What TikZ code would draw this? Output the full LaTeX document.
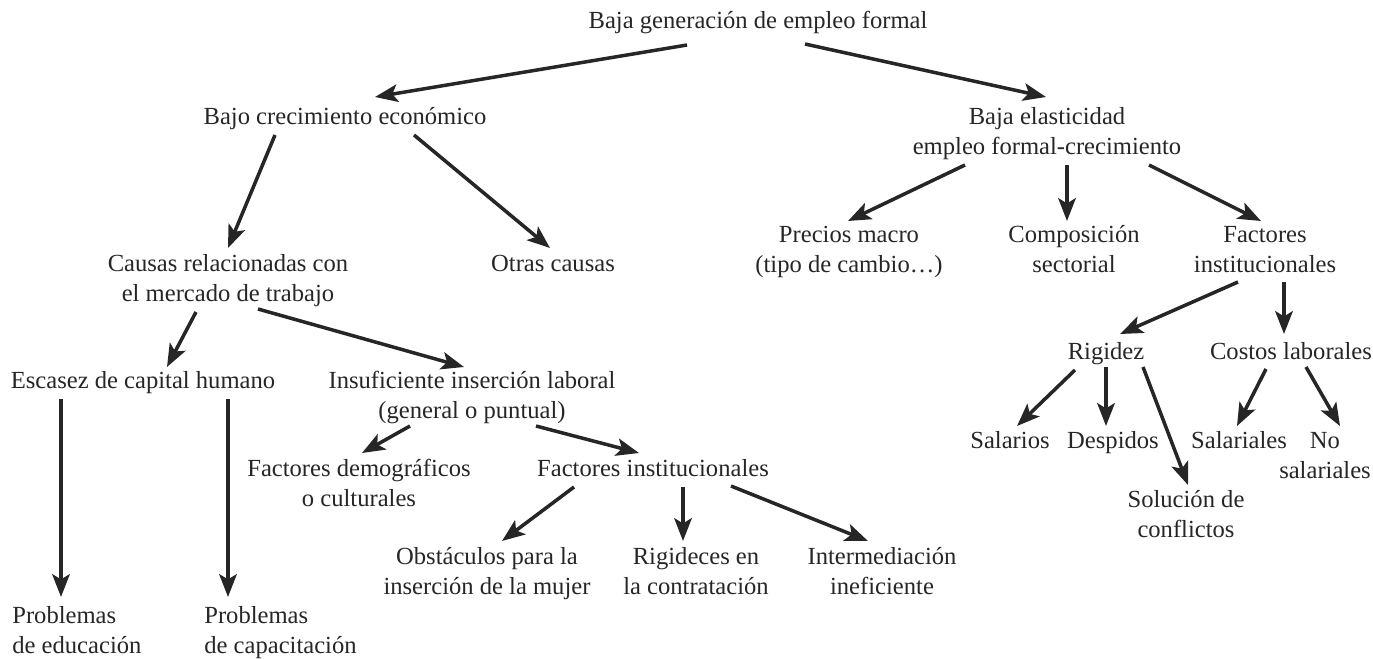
\documentclass[tikz,border=0pt]{standalone}
\usepackage{fontspec}
\setmainfont{Liberation Serif}
\usetikzlibrary{arrows.meta,calc}
\tikzset{
  lbl/.style={font=\fontsize{14pt}{17pt}\selectfont, align=center, inner sep=0pt, anchor=base, text=black!85},
  arr/.style={line width=2pt, -{Stealth[length=13pt,width=10pt,inset=3pt]}, black!85}
}
\begin{document}
\begin{tikzpicture}[x=0.02cm,y=-0.02cm]
    \useasboundingbox (0,0) rectangle (1373,659);
    % nodes (two-line nodes sit on their last line)
    \node[lbl] (top) at (758,29) {Baja generación de empleo formal};
    \node[lbl] (bajo) at (345,124) {Bajo crecimiento económico};
    \node[lbl] (elast) at (1047,154) {Baja elasticidad\\empleo formal-crecimiento};
    \node[lbl] (precios) at (849,272) {Precios macro\\(tipo de cambio\ldots)};
    \node[lbl] (compos) at (1074,272) {Composición\\sectorial};
    \node[lbl] (factR) at (1265,272) {Factores\\institucionales};
    \node[lbl] (causas) at (228,301) {Causas relacionadas con\\el mercado de trabajo};
    \node[lbl] (otras) at (553,271) {Otras causas};
    \node[lbl] (rigidez) at (1106,359) {Rigidez};
    \node[lbl] (costos) at (1291,359) {Costos laborales};
    \node[lbl] (escasez) at (143,388) {Escasez de capital humano};
    \node[lbl] (insuf) at (472,418) {Insuficiente inserción laboral\\(general o puntual)};
    \node[lbl] (salarios) at (1010,448) {Salarios};
    \node[lbl] (despidos) at (1113,448) {Despidos};
    \node[lbl] (salariales) at (1239,448) {Salariales};
    \node[lbl] (nosal) at (1325,478) {No\\salariales};
    \node[lbl] (demog) at (359,506) {Factores demográficos\\o culturales};
    \node[lbl] (factL) at (653,476) {Factores institucionales};
    \node[lbl] (solucion) at (1186,537) {Solución de\\conflictos};
    \node[lbl] (obst) at (487,594) {Obstáculos para la\\inserción de la mujer};
    \node[lbl] (rigideces) at (696,594) {Rigideces en\\la contratación};
    \node[lbl] (interm) at (882,594) {Intermediación\\ineficiente};
    \node[lbl,anchor=base west,align=left] (probE) at (12,653) {Problemas\\de educación};
    \node[lbl,anchor=base west,align=left] (probC) at (204,653) {Problemas\\de capacitación};
    % arrows
    \draw[arr] ($(top.base)+(-71,16)$) -- ($(bajo.base)+(30,-27)$);
    \draw[arr] ($(top.base)+(47,15)$) -- ($(elast.base)+(-1,-57)$);
    \draw[arr] ($(bajo.base)+(-70,11)$) -- ($(causas.base)+(0,-53)$);
    \draw[arr] ($(bajo.base)+(69,11)$) -- ($(otras.base)+(-3,-23)$);
    \draw[arr] ($(elast.base)+(-82,11)$) -- ($(precios.base)+(-1,-51)$);
    \draw[arr] ($(elast.base)+(20,11)$) -- ($(compos.base)+(-7,-51)$);
    \draw[arr] ($(elast.base)+(102,11)$) -- ($(factR.base)+(-4,-51)$);
    \draw[arr] ($(factR.base)+(-27,10)$) -- ($(rigidez.base)+(14,-25)$);
    \draw[arr] ($(factR.base)+(19,10)$) -- ($(costos.base)+(-7,-25)$);
    \draw[arr] ($(causas.base)+(-32,11)$) -- ($(escasez.base)+(24,-21)$);
    \draw[arr] ($(causas.base)+(30,8)$) -- ($(insuf.base)+(-8,-51)$);
    \draw[arr] ($(escasez.base)+(-82,11)$) -- ($(probE.base west)+(49,-56)$);
    \draw[arr] ($(escasez.base)+(85,11)$) -- ($(probC.base west)+(24,-56)$);
    \draw[arr] ($(insuf.base)+(-62,8)$) -- ($(demog.base)+(3,-53)$);
    \draw[arr] ($(insuf.base)+(64,8)$) -- ($(factL.base)+(-14,-23)$);
    \draw[arr] ($(factL.base)+(-79,11)$) -- ($(obst.base)+(15,-53)$);
    \draw[arr] ($(factL.base)+(30,11)$) -- ($(rigideces.base)+(-13,-53)$);
    \draw[arr] ($(factL.base)+(78,10)$) -- ($(interm.base)+(-14,-53)$);
    \draw[arr] ($(rigidez.base)+(-31,11)$) -- ($(salarios.base)+(7,-22)$);
    \draw[arr] ($(rigidez.base)+(0,8)$) -- ($(despidos.base)+(-7,-22)$);
    \draw[arr] ($(rigidez.base)+(37,8)$) -- ($(solucion.base)+(2,-52)$);
    \draw[arr] ($(costos.base)+(-25,10)$) -- ($(salariales.base)+(-2,-22)$);
    \draw[arr] ($(costos.base)+(15,8)$) -- ($(nosal.base)+(15,-52)$);
\end{tikzpicture}
\end{document}
